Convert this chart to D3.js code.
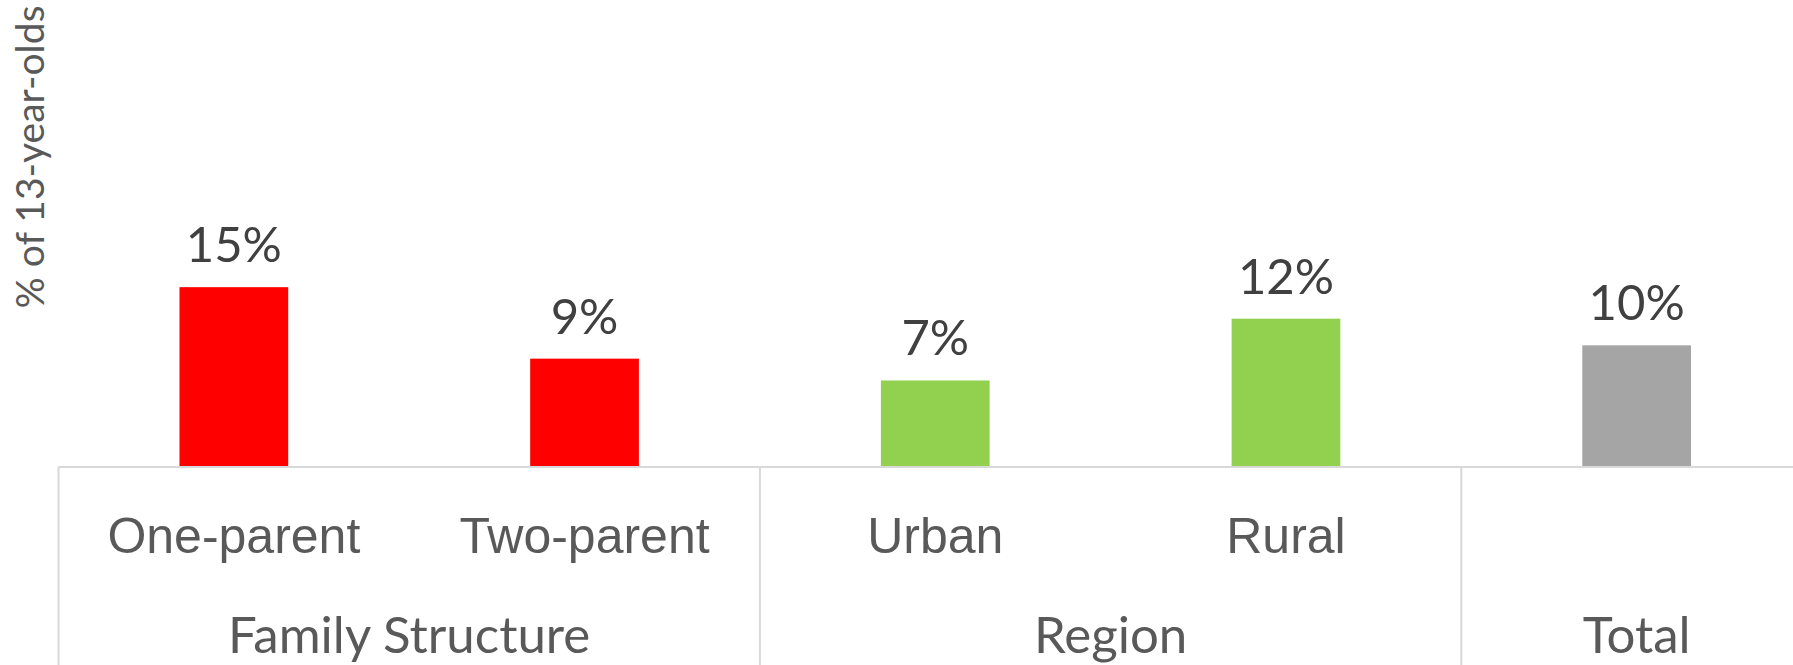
<!DOCTYPE html>
<html>
<head>
<meta charset="utf-8">
<script src="https://cdn.jsdelivr.net/npm/d3@7"></script>
<style>
  html, body { margin: 0; padding: 0; background: #fff; }
  svg { display: block; font-family: Lato, "Open Sans", sans-serif; }
  .axis path, .axis line, .sep { stroke: #d9d9d9; stroke-width: 2; fill: none; }
  .axis text { fill: #595959; }
</style>
</head>
<body>
<svg id="chart" width="1793" height="665"></svg>
<script>
// chart data
var categories = ["One-parent", "Two-parent", "Urban", "Rural", "Total"];
var groups     = ["Family Structure", "Family Structure", "Region", "Region", "Total"];
var values     = [14.8, 8.9, 7.1, 12.2, 10.0];
var barColors  = ["#ff0000", "#ff0000", "#92d050", "#92d050", "#a5a5a5"];
var yTitle     = "% of 13-year-olds";

var width = 1793, height = 665;
var left = 58.5, step = 350.7, baseY = 466.5;

var svg = d3.select("#chart");

var x = d3.scaleBand()
  .domain(categories)
  .range([left, left + step * categories.length])
  .paddingInner(0.69)
  .paddingOuter(0.345);

var y = d3.scaleLinear()
  .domain([0, 38.5])
  .range([baseY, 0]);

// bars
svg.selectAll("rect.bar")
  .data(values)
  .enter().append("rect")
    .attr("class", "bar")
    .attr("x", function(d, i) { return x(categories[i]); })
    .attr("width", x.bandwidth())
    .attr("y", function(d) { return y(d); })
    .attr("height", function(d) { return y(0) - y(d); })
    .style("fill", function(d, i) { return barColors[i]; });

// data labels
svg.selectAll("text.value")
  .data(values)
  .enter().append("text")
    .attr("class", "value")
    .attr("x", function(d, i) { return x(categories[i]) + x.bandwidth() / 2; })
    .attr("y", function(d) { return y(d) - 25; })
    .attr("text-anchor", "middle")
    .style("font-size", "49px")
    .style("fill", "#404040")
    .text(function(d) { return Math.round(d) + "%"; });

// category axis (a category that is its own group shows only the group label)
var xAxis = d3.axisBottom(x).tickSize(0).tickSizeOuter(0)
  .tickFormat(function(d, i) { return groups[i] === d ? "" : d; });
var gx = svg.append("g")
  .attr("class", "axis")
  .attr("transform", "translate(0," + baseY + ")")
  .call(xAxis);
gx.selectAll(".tick text").style("font-size", "50px").attr("dy", 0).attr("y", 86);

// group separators and labels
var groupNames = Array.from(new Set(groups));
var spans = groupNames.map(function(g) {
  var idx = groups.map(function(v, i) { return v === g ? i : -1; }).filter(function(i) { return i >= 0; });
  var x0 = x(categories[idx[0]]) - x.step() * x.paddingInner() / 2;
  var x1 = x(categories[idx[idx.length - 1]]) + x.bandwidth() + x.step() * x.paddingInner() / 2;
  return { name: g, x0: x0, x1: x1 };
});

svg.selectAll("line.sep")
  .data(spans)
  .enter().append("line")
    .attr("class", "sep")
    .attr("x1", function(d) { return d.x0; })
    .attr("x2", function(d) { return d.x0; })
    .attr("y1", baseY)
    .attr("y2", height);

svg.selectAll("text.group")
  .data(spans)
  .enter().append("text")
    .attr("class", "group")
    .attr("x", function(d) { return (d.x0 + d.x1) / 2; })
    .attr("y", 653)
    .attr("text-anchor", "middle")
    .style("font-size", "51px")
    .style("fill", "#595959")
    .text(function(d) { return d.name; });

// y title
svg.append("text")
  .attr("transform", "translate(44,157) rotate(-90)")
  .attr("text-anchor", "middle")
  .style("font-size", "39px")
  .style("fill", "#595959")
  .text(yTitle);
</script>
</body>
</html>
